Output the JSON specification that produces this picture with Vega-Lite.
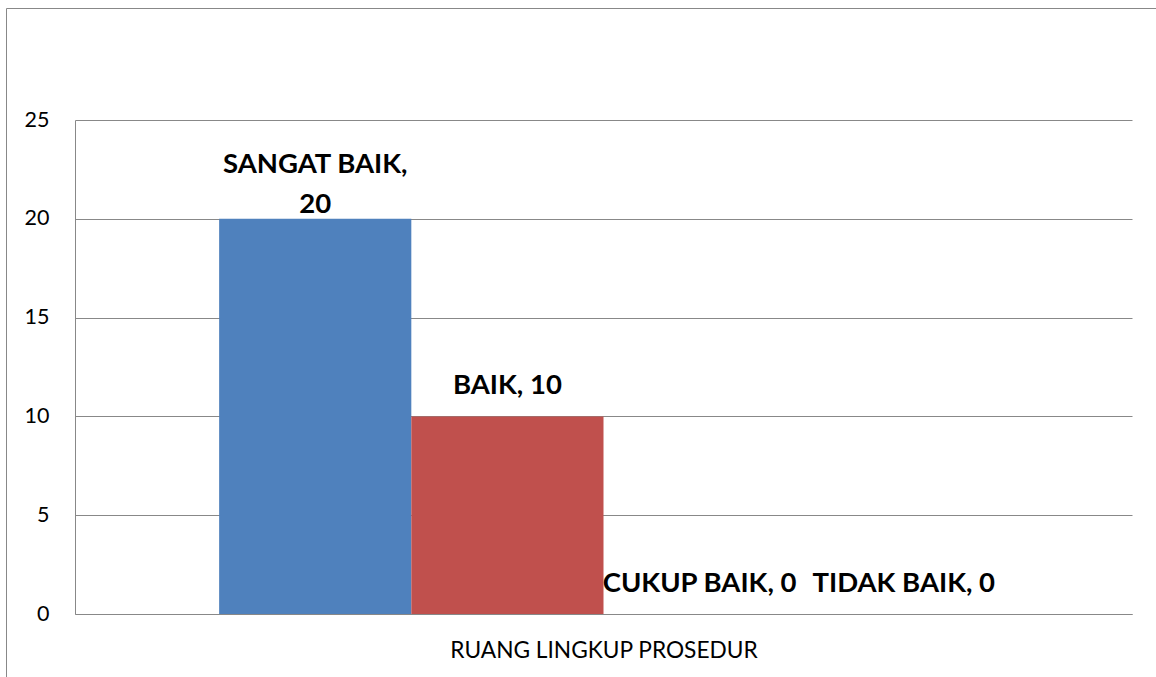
{
  "$schema": "https://vega.github.io/schema/vega-lite/v6.json",
  "width": 1160,
  "height": 681,
  "autosize": {"type": "none"},
  "padding": {"left": 6, "top": 8, "right": -10, "bottom": -12},
  "background": "white",
  "config": {"view": {"stroke": "#888888", "strokeWidth": 1}, "font": "Lato"},
  "data": {"values": [
    {"kategori": "SANGAT BAIK", "nilai": 20, "label": "SANGAT BAIK,\n20"},
    {"kategori": "BAIK", "nilai": 10, "label": "BAIK, 10"},
    {"kategori": "CUKUP BAIK", "nilai": 0, "label": "CUKUP BAIK, 0"},
    {"kategori": "TIDAK BAIK", "nilai": 0, "label": "TIDAK BAIK, 0"}
  ]},
  "encoding": {
    "x": {
      "field": "kategori", "type": "nominal",
      "sort": ["SANGAT BAIK", "BAIK", "CUKUP BAIK", "TIDAK BAIK"],
      "scale": {"range": [69, 1126], "paddingInner": 0, "paddingOuter": 0.75},
      "axis": {
        "title": "RUANG LINGKUP PROSEDUR", "labels": false, "ticks": false,
        "domainColor": "#888888", "domainWidth": 1, "offset": -75,
        "titleFont": "Lato", "titleFontSize": 22.7, "titleFontWeight": "normal",
        "titleColor": "#000000", "titleBaseline": "alphabetic", "titlePadding": 43
      }
    },
    "y": {
      "field": "nilai", "type": "quantitative",
      "scale": {"domain": [0, 25], "range": [606, 112], "nice": false},
      "axis": {
        "title": null, "values": [0, 5, 10, 15, 20, 25], "ticks": false,
        "labelPadding": 26, "labelFontSize": 21.5, "labelColor": "#000000", "labelFont": "Lato",
        "grid": true, "gridColor": "#888888", "gridWidth": 1,
        "domainColor": "#888888", "domainWidth": 1, "offset": -69
      }
    }
  },
  "layer": [
    {
      "mark": {"type": "bar"},
      "encoding": {
        "color": {
          "field": "kategori", "type": "nominal",
          "scale": {"domain": ["SANGAT BAIK", "BAIK", "CUKUP BAIK", "TIDAK BAIK"],
                    "range": ["#4F81BD", "#C0504D", "#9BBB59", "#8064A2"]},
          "legend": null
        }
      }
    },
    {
      "transform": [{"filter": "datum.kategori === 'SANGAT BAIK'"}],
      "mark": {"type": "text", "lineBreak": "\n", "lineHeight": 40, "fontSize": 27.5, "fontWeight": "bold",
               "baseline": "alphabetic", "dy": -46, "color": "#000000", "font": "Lato"},
      "encoding": {"text": {"field": "label"}}
    },
    {
      "transform": [{"filter": "datum.kategori === 'BAIK' || datum.kategori === 'CUKUP BAIK'"}],
      "mark": {"type": "text", "fontSize": 27.5, "fontWeight": "bold",
               "baseline": "alphabetic", "dy": -22, "color": "#000000", "font": "Lato"},
      "encoding": {"text": {"field": "label"}}
    },
    {
      "transform": [{"filter": "datum.kategori === 'TIDAK BAIK'"}],
      "mark": {"type": "text", "fontSize": 27.5, "fontWeight": "bold",
               "baseline": "alphabetic", "dy": -22, "dx": 12, "color": "#000000", "font": "Lato"},
      "encoding": {"text": {"field": "label"}}
    }
  ]
}
